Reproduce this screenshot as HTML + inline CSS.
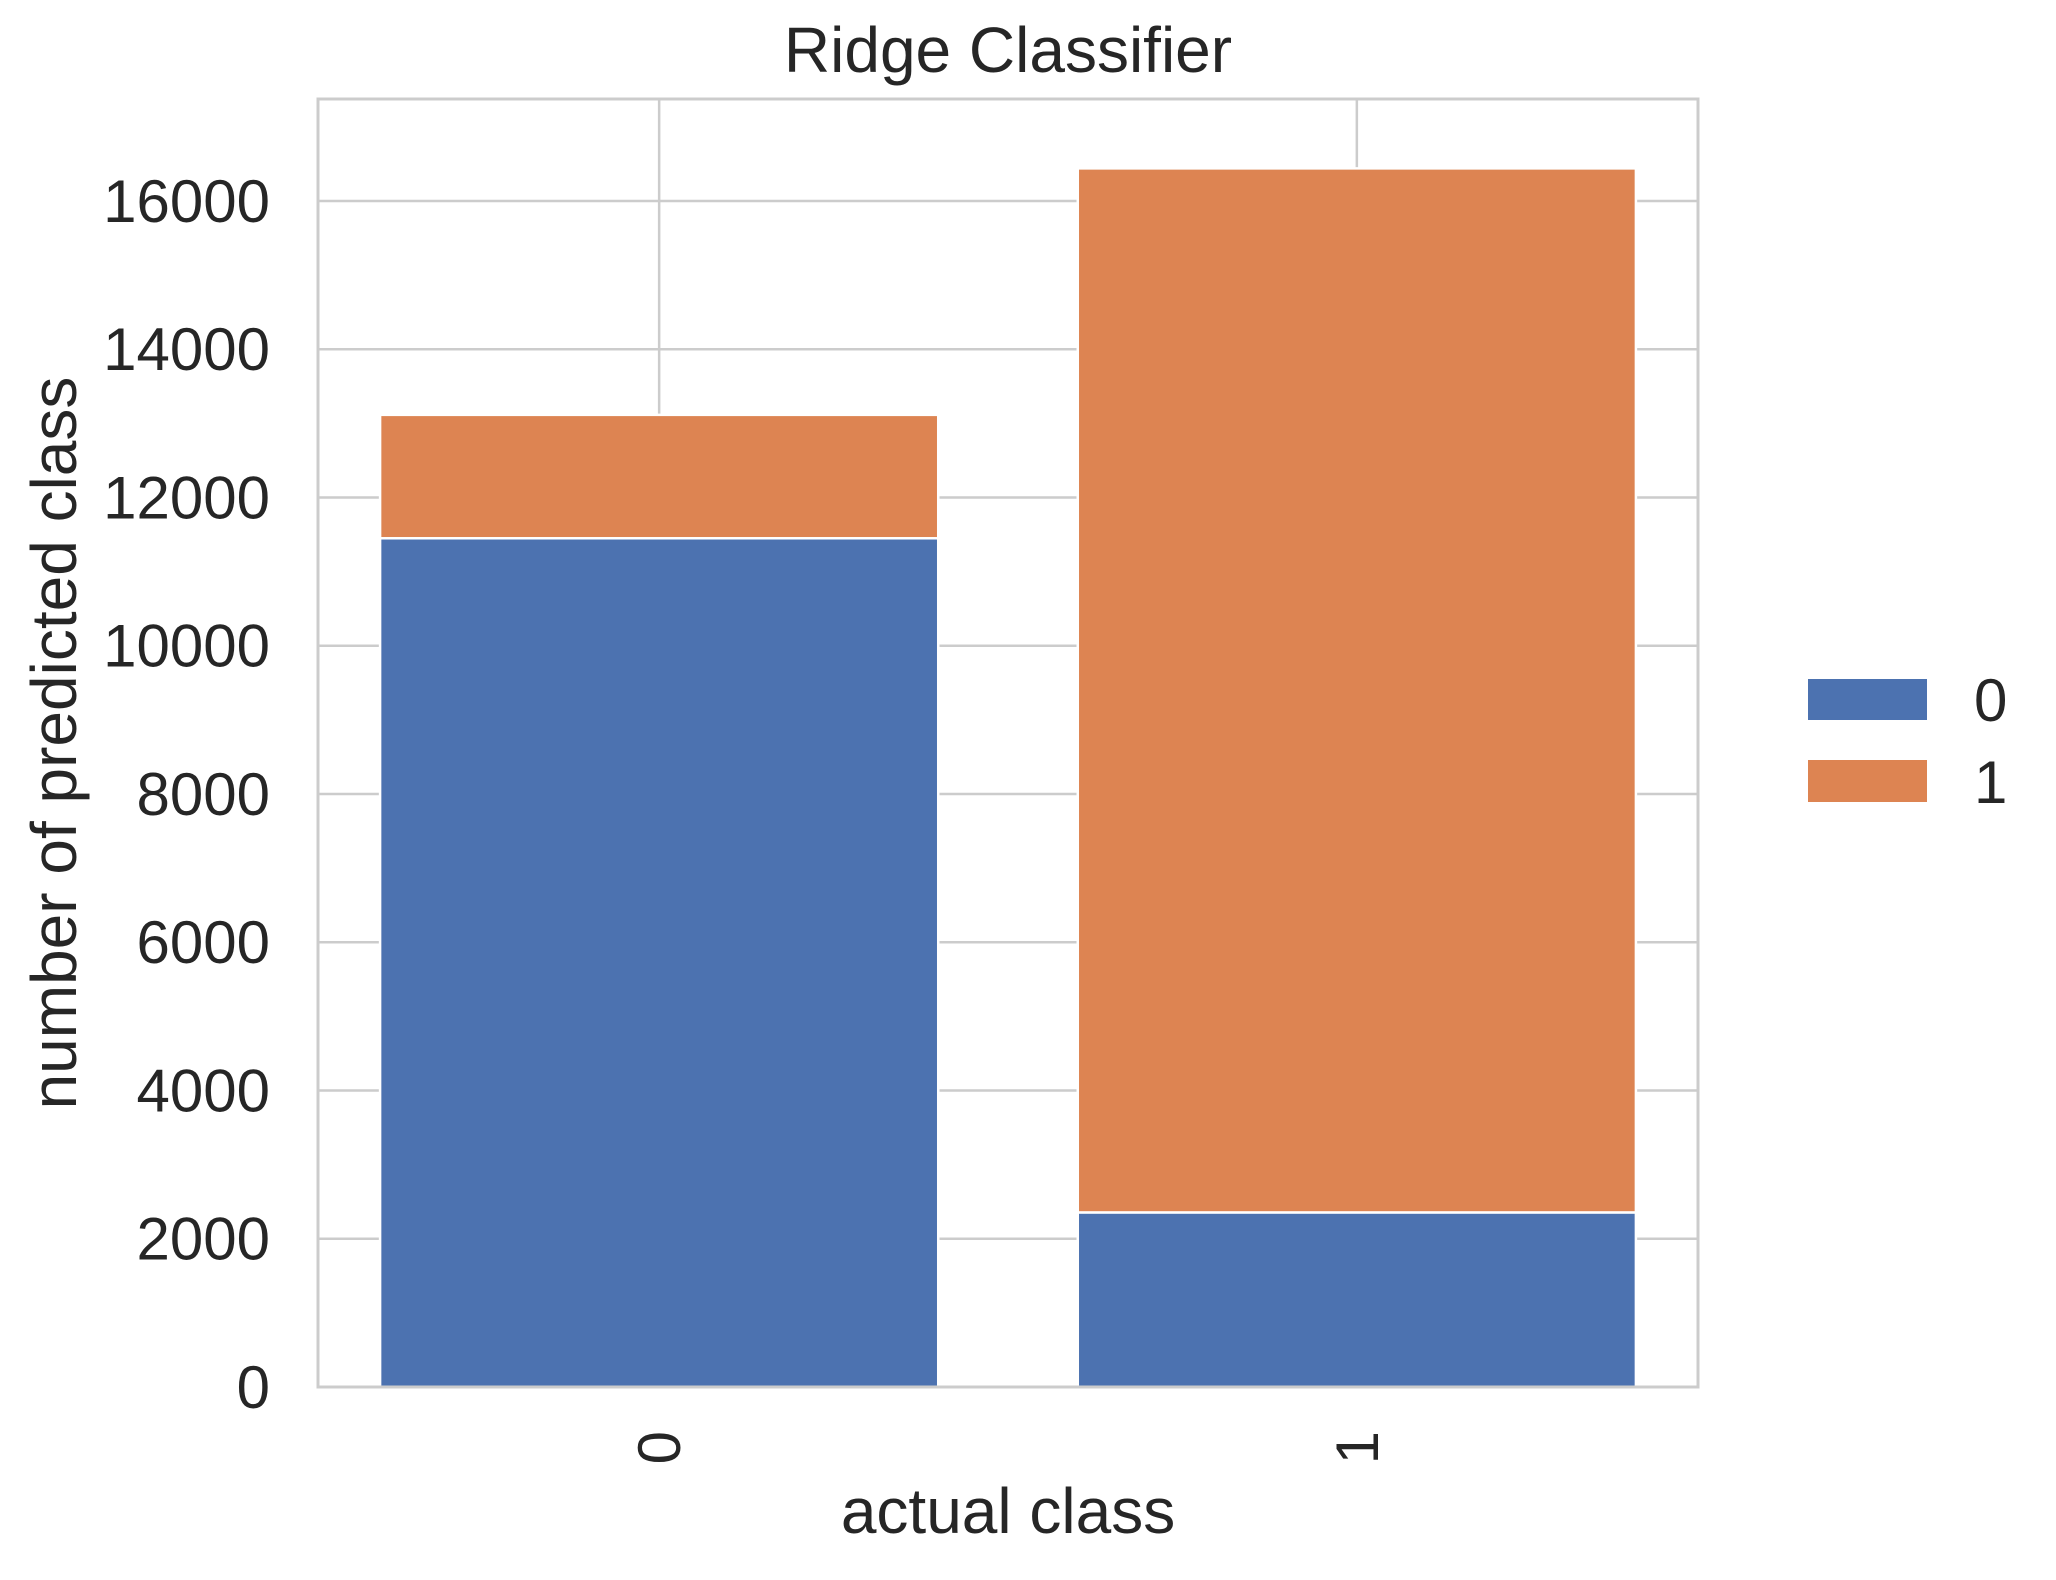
<!DOCTYPE html>
<html><head><meta charset="utf-8"><style>
body{margin:0;background:#fff}
svg text{font-family:"Liberation Sans",Arial,sans-serif;fill:#262626}
</style></head><body>
<svg id="chart" width="2056" height="1575" viewBox="0 0 2056 1575" xmlns="http://www.w3.org/2000/svg">
<rect width="2056" height="1575" fill="#fff"/>
<g id="grid"></g><g id="bars"></g><g id="axes"></g>
<text x="1008" y="72" font-size="64" text-anchor="middle">Ridge Classifier</text>
<text x="1008" y="1533" font-size="64" text-anchor="middle">actual class</text>
<text transform="translate(76,743) rotate(-90)" font-size="64" text-anchor="middle">number of predicted class</text>
<g>
<rect x="1808" y="679" width="119" height="41" fill="#4c72b0"/>
<text x="1974" y="721" font-size="60">0</text>
<rect x="1808" y="760" width="119" height="42" fill="#dd8452"/>
<text x="1974" y="803" font-size="60">1</text>
</g>
</svg>
<script>
const categories = ["0","1"];
const predicted0 = [11450, 2355];
const predicted1 = [1665, 14085];
const yTicks = [0,2000,4000,6000,8000,10000,12000,14000,16000];
const colors = ["#4c72b0","#dd8452"];
const L=318,R=1698,T=99,B=1387;
const yMax=17376;
const y=v=>B-(v/yMax)*(B-T);
const xMin=-0.489,xMax=1.489;
const x=v=>L+(v-xMin)/(xMax-xMin)*(R-L);
const NS="http://www.w3.org/2000/svg";
function mk(tag,attrs,parent){const e=document.createElementNS(NS,tag);for(const k in attrs)e.setAttribute(k,attrs[k]);parent.appendChild(e);return e;}
const grid=document.getElementById('grid'),bars=document.getElementById('bars'),axes=document.getElementById('axes');
yTicks.forEach(t=>{
  const l=mk('line',{x1:L,x2:R,y1:y(t),y2:y(t),stroke:'#cccccc','stroke-width':2.5},grid);
  
  
  const tx=mk('text',{x:L-48,y:y(t)+21,'font-size':60,'text-anchor':'end'},axes);
  tx.textContent=t;
  
  
});
categories.forEach((c,i)=>{
  const l=mk('line',{x1:x(i),x2:x(i),y1:T,y2:B,stroke:'#cccccc','stroke-width':2.5},grid);
  
  
  const w=x(0.4)-x(0);
  const b0=mk('rect',{x:x(i)-w,y:y(predicted0[i]),width:2*w,height:y(0)-y(predicted0[i]),fill:colors[0],stroke:'#fff','stroke-width':2.5},bars);
  
  
  const top=predicted0[i]+predicted1[i];
  const b1=mk('rect',{x:x(i)-w,y:y(top),width:2*w,height:y(predicted0[i])-y(top),fill:colors[1],stroke:'#fff','stroke-width':2.5},bars);
  
  
  const tx=mk('text',{transform:`translate(${x(i)+21},${B+44}) rotate(-90)`,'font-size':60,'text-anchor':'end'},axes);
  tx.textContent=c;
  
  
});
const fr=mk('rect',{x:L,y:T,width:R-L,height:B-T,fill:'none',stroke:'#cccccc','stroke-width':3},axes);


</script>
</body></html>
